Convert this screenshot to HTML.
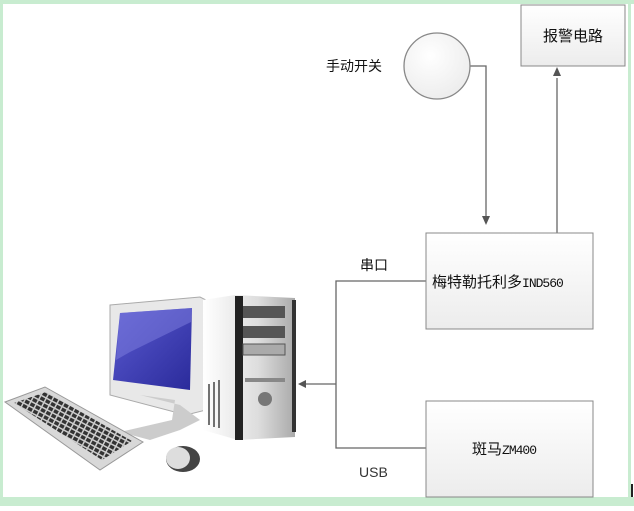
<!DOCTYPE html>
<html><head><meta charset="utf-8"><style>
body{margin:0;width:634px;height:506px;overflow:hidden;background:#fff;font-family:"Liberation Sans","Noto Sans CJK SC",sans-serif}
</style></head><body>
<svg width="634" height="506" xmlns="http://www.w3.org/2000/svg" font-family="Liberation Sans, Noto Sans CJK SC, sans-serif">
<defs>
<linearGradient id="bx" x1="0" y1="0" x2="0" y2="1"><stop offset="0" stop-color="#fff"/><stop offset="1" stop-color="#ececec"/></linearGradient>
<linearGradient id="tw" x1="0" y1="0" x2="1" y2="0"><stop offset="0" stop-color="#fff"/><stop offset="0.6" stop-color="#ddd"/><stop offset="1" stop-color="#aaa"/></linearGradient>
<linearGradient id="sc" x1="0" y1="0" x2="1" y2="1"><stop offset="0" stop-color="#5a5ad0"/><stop offset="1" stop-color="#2a2a9a"/></linearGradient>
<radialGradient id="ci" cx="0.4" cy="0.35" r="0.7"><stop offset="0" stop-color="#fff"/><stop offset="1" stop-color="#ececec"/></radialGradient>
<pattern id="keys" width="6" height="5" patternUnits="userSpaceOnUse" patternTransform="rotate(28)"><rect width="6" height="5" fill="#ccc"/><rect x="0.5" y="0.5" width="4.5" height="3.5" fill="#333"/></pattern>
</defs>
<rect x="0" y="0" width="634" height="4" fill="#c8ecd0"/>
<rect x="0" y="0" width="3" height="506" fill="#c8ecd0"/>
<rect x="628" y="0" width="3" height="497" fill="#c8ecd0"/>
<rect x="0" y="497" width="634" height="9" fill="#c8ecd0"/>
<rect x="631" y="484" width="2" height="13" fill="#222"/>
<g stroke="#666" stroke-width="1.3" fill="none">
<polyline points="470,66 486,66 486,222"/>
<line x1="557" y1="233" x2="557" y2="78"/>
<polyline points="426,281 336,281 336,448 426,448"/>
<line x1="336" y1="384" x2="306" y2="384"/>
</g>
<g fill="#555">
<polygon points="482,216 490,216 486,225"/>
<polygon points="553,76 561,76 557,67"/>
<polygon points="298,384 306,380 306,388"/>
</g>
<circle cx="437" cy="66" r="33" fill="url(#ci)" stroke="#888" stroke-width="1.3"/>
<rect x="521" y="5" width="104" height="61" fill="url(#bx)" stroke="#888"/>
<rect x="426" y="233" width="167" height="96" fill="url(#bx)" stroke="#888"/>
<rect x="426" y="401" width="167" height="96" fill="url(#bx)" stroke="#888"/>
<g font-size="15" fill="#111">
<text x="573" y="41" text-anchor="middle">报警电路</text>
<text x="326" y="71" font-size="14">手动开关</text>
<text x="360" y="270" font-size="14">串口</text>
<text x="432" y="287">梅特勒托利多<tspan font-family="Liberation Mono" font-size="13" letter-spacing="-1">IND560</tspan></text>
<text x="472" y="454">斑马<tspan font-family="Liberation Mono" font-size="13" letter-spacing="-1">ZM400</tspan></text>
<text x="359" y="477" fill="#333" font-size="14">USB</text>
</g>
<!-- computer -->
<polygon points="110,305 200,297 206,300 206,410 186,415 110,395" fill="#e8e8e8" stroke="#aaa"/>
<polygon points="120,313 192,308 190,390 113,380" fill="url(#sc)"/>
<polygon points="120,313 192,308 191,322 130,352 116,360" fill="#8080e0" opacity="0.5"/>
<polygon points="140,395 175,400 172,420 120,432 150,440 180,430 200,420 180,405" fill="#ccc"/>
<polygon points="203,300 235,295 295,298 295,437 238,440 203,430" fill="url(#tw)"/>
<rect x="235" y="296" width="8" height="144" fill="#222"/>
<rect x="292" y="300" width="4" height="132" fill="#333"/>
<rect x="243" y="306" width="42" height="12" fill="#555"/>
<rect x="243" y="326" width="42" height="12" fill="#555"/>
<rect x="243" y="344" width="42" height="11" fill="#aaa" stroke="#555"/>
<rect x="245" y="378" width="40" height="4" fill="#888"/>
<circle cx="265" cy="399" r="7" fill="#777"/>
<g stroke="#444" stroke-width="1.5"><line x1="209" y1="384" x2="209" y2="425"/><line x1="214" y1="382" x2="214" y2="427"/><line x1="219" y1="380" x2="219" y2="428"/></g>
<polygon points="5,402 45,387 143,442 100,470" fill="#d8d8d8" stroke="#999"/>
<polygon points="14,403 46,392 132,441 102,460" fill="url(#keys)"/>
<ellipse cx="183" cy="459" rx="17" ry="13" fill="#444"/>
<ellipse cx="178" cy="458" rx="12" ry="11" fill="#ddd"/>
</svg>
</body></html>
